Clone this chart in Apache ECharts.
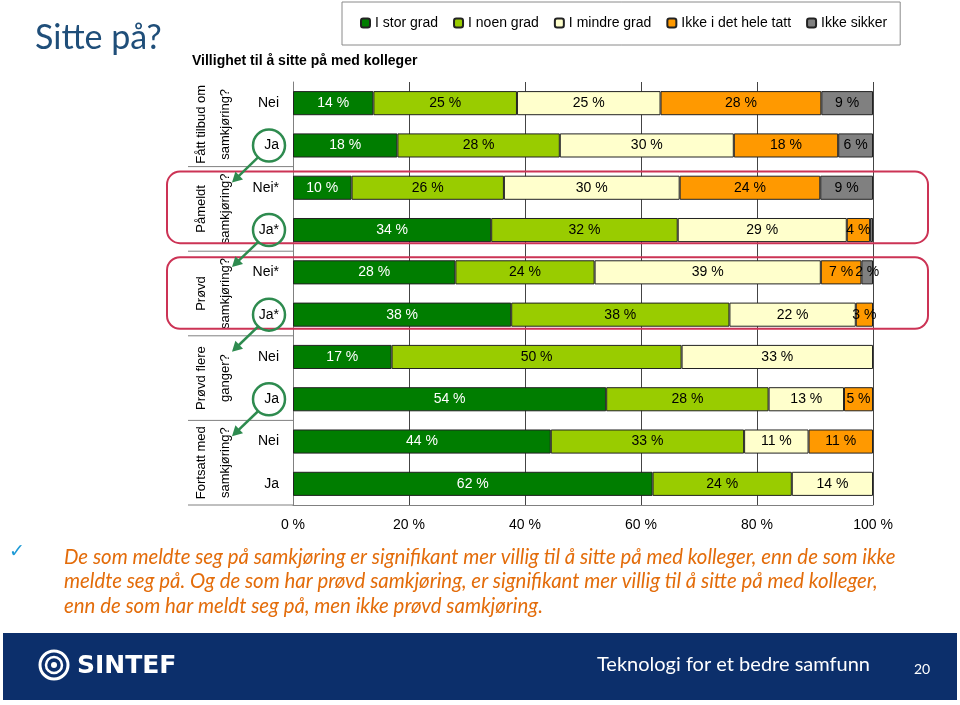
<!DOCTYPE html>
<html>
<head>
<meta charset="utf-8">
<script src="https://cdn.jsdelivr.net/npm/echarts@6/dist/echarts.min.js"></script>
<style>
html,body{margin:0;padding:0;background:#fff;}
#chart{width:960px;height:705px;}
</style>
</head>
<body>
<div id="chart"></div>
<script>
// ---- data ----
const rowLabels = ['Nei', 'Ja', 'Nei*', 'Ja*', 'Nei*', 'Ja*', 'Nei', 'Ja', 'Nei', 'Ja'];
const groupLine1 = ['Fått tilbud om', 'Påmeldt', 'Prøvd', 'Prøvd flere', 'Fortsatt med'];
const groupLine2 = ['samkjøring?', 'samkjøring?', 'samkjøring?', 'ganger?', 'samkjøring?'];
const seriesNames = ['I stor grad', 'I noen grad', 'I mindre grad', 'Ikke i det hele tatt', 'Ikke sikker'];
const storGrad      = [14, 18, 10, 34, 28, 38, 17, 54, 44, 62];
const noenGrad      = [25, 28, 26, 32, 24, 38, 50, 28, 33, 24];
const mindreGrad    = [25, 30, 30, 29, 39, 22, 33, 13, 11, 14];
const ikkeHeltTatt  = [28, 18, 24, 4, 7, 3, 0, 5, 11, 0];
const ikkeSikker    = [9, 6, 9, 0.5, 2, 0, 0, 0, 0, 0];
const xTickLabels   = ['0 %', '20 %', '40 %', '60 %', '80 %', '100 %'];
const circledRows   = [1, 3, 5, 7];
const textLines = [
  'De som meldte seg på samkjøring er signifikant mer villig til å sitte på med kolleger, enn de som ikke',
  'meldte seg på. Og de som har prøvd samkjøring, er signifikant mer villig til å sitte på med kolleger,',
  'enn de som har meldt seg på, men ikke prøvd samkjøring.'
];

const colors = ['#007D00', '#99CC00', '#FFFFCC', '#FF9900', '#808080'];
const rawSeries = [storGrad, noenGrad, mindreGrad, ikkeHeltTatt, ikkeSikker];
const rowSum = rowLabels.map((_, r) => rawSeries.reduce((s, arr) => s + arr[r], 0));

const chart = echarts.init(document.getElementById('chart'), null, {renderer: 'canvas'});
const AR = '"Liberation Sans", Arial, sans-serif';

const series = seriesNames.map((name, i) => ({
  type: 'bar',
  name: name,
  stack: 'total',
  barCategoryGap: '43%',
  data: rawSeries[i].map((v, r) => v > 0 ? v / rowSum[r] * 100 : null),
  itemStyle: {color: colors[i], borderColor: '#222', borderWidth: 1},
  label: {
    show: true,
    position: 'inside',
    color: i === 0 ? '#fff' : '#000',
    fontSize: 14,
    fontFamily: AR,
    formatter: p => {
      const raw = rawSeries[i][p.dataIndex];
      return raw >= 2 ? raw + ' %' : '';
    }
  },
  emphasis: {disabled: true}
}));

const option = {
  animation: false,
  backgroundColor: '#fff',
  legend: {
    left: 342, top: 2,
    padding: [14, 13, 15, 18],
    itemGap: 15,
    itemWidth: 9, itemHeight: 9,
    backgroundColor: '#fff',
    borderColor: '#8a8a8a', borderWidth: 1,
    textStyle: {fontSize: 14, fontFamily: AR, color: '#000'},
    data: seriesNames,
    selectedMode: false
  },
  grid: {left: 293, right: 87, top: 82, height: 423, containLabel: false},
  xAxis: {
    type: 'value', min: 0, max: 100, interval: 20,
    axisLine: {show: true, lineStyle: {color: '#808080'}},
    axisTick: {show: false},
    splitLine: {show: true, lineStyle: {color: '#444', width: 1}},
    axisLabel: {
      fontSize: 14, fontFamily: AR, color: '#000', margin: 13,
      formatter: v => xTickLabels[Math.round(v / 20)]
    }
  },
  yAxis: {
    type: 'category', inverse: true, data: rowLabels,
    axisLine: {show: true, lineStyle: {color: '#808080'}},
    axisTick: {show: false},
    axisLabel: {fontSize: 14, fontFamily: AR, color: '#000', margin: 14}
  },
  series: series
};
chart.setOption(option);

// ---- decorations positioned through the chart's own scales ----
const yc = i => chart.convertToPixel({yAxisIndex: 0}, i);
const band = yc(1) - yc(0);
const bnd = i => yc(i) - band / 2;
const gridLeft = chart.convertToPixel({xAxisIndex: 0}, 0);

const g = [];
// slide title
g.push({type: 'text', x: 35, y: 38, style: {text: 'Sitte på?', fill: '#1F4E79', font: '34px Lato, "Open Sans", sans-serif', verticalAlign: 'middle'}});
g.push({type: 'text', x: 192, y: 61, style: {text: 'Villighet til å sitte på med kolleger', fill: '#000', font: 'bold 14px ' + AR, verticalAlign: 'middle'}});

// group separators
for (let k = 2; k <= rowLabels.length; k += 2) {
  g.push({type: 'line', shape: {x1: 188, y1: bnd(k), x2: gridLeft, y2: bnd(k)}, style: {stroke: '#808080', lineWidth: 1}});
}
// group labels
for (let gi = 0; gi < groupLine1.length; gi++) {
  const cy = (bnd(2 * gi) + bnd(2 * gi + 2)) / 2;
  g.push({type: 'text', x: 201, y: cy, rotation: Math.PI / 2, style: {text: groupLine1[gi], fill: '#000', font: '13px ' + AR, align: 'center', verticalAlign: 'middle'}});
  g.push({type: 'text', x: 225, y: cy, rotation: Math.PI / 2, style: {text: groupLine2[gi], fill: '#000', font: '13px ' + AR, align: 'center', verticalAlign: 'middle'}});
}
// red rounded boxes
[[2, 5, 8], [4, 6, 7]].forEach(([a, t, b]) => {
  const top = bnd(a) + t, bot = bnd(a + 2) - b;
  g.push({type: 'rect', shape: {x: 167, y: top, width: 928 - 167, height: bot - top, r: 13}, style: {fill: 'none', stroke: '#CC3355', lineWidth: 2}, z: 50});
});
// green circles + arrows
const GREEN = '#2E8B4F';
circledRows.forEach(r => {
  const cx = gridLeft - 24, cy = yc(r);
  g.push({type: 'circle', shape: {cx: cx, cy: cy, r: 16}, style: {fill: 'none', stroke: GREEN, lineWidth: 2.5}, z: 50});
  const sx = cx - 11, sy = cy + 12, ex = cx - 37, ey = cy + 37;
  const L = Math.hypot(ex - sx, ey - sy), dx = (ex - sx) / L, dy = (ey - sy) / L;
  const nx = -dy, ny = dx, hl = 10, hw = 5.5;
  g.push({type: 'line', shape: {x1: sx, y1: sy, x2: ex - dx * 6, y2: ey - dy * 6}, style: {stroke: GREEN, lineWidth: 2.5}, z: 50});
  g.push({type: 'polygon', shape: {points: [[ex, ey], [ex - dx * hl + nx * hw, ey - dy * hl + ny * hw], [ex - dx * hl - nx * hw, ey - dy * hl - ny * hw]]}, style: {fill: GREEN}, z: 50});
});

// bottom text
g.push({type: 'text', x: 9, y: 552, style: {text: '✓', fill: '#1E9AD6', font: '19px "DejaVu Sans", sans-serif', verticalAlign: 'middle'}});
textLines.forEach((t, i) => {
  g.push({type: 'text', x: 64, y: 557 + i * 24.5, style: {text: t, fill: '#E36C0A', font: 'italic 20.4px Lato, sans-serif', verticalAlign: 'middle'}});
});

// footer
g.push({type: 'rect', shape: {x: 3, y: 633, width: 954, height: 67}, style: {fill: '#0C2F6B'}});
g.push({type: 'circle', shape: {cx: 54, cy: 665, r: 14}, style: {fill: 'none', stroke: '#fff', lineWidth: 3}});
g.push({type: 'circle', shape: {cx: 54, cy: 665, r: 8}, style: {fill: 'none', stroke: '#fff', lineWidth: 2.5}});
g.push({type: 'circle', shape: {cx: 54, cy: 665, r: 3}, style: {fill: '#fff'}});
g.push({type: 'text', x: 77, y: 666, style: {text: 'SINTEF', fill: '#fff', font: 'bold 25px "DejaVu Sans", sans-serif', verticalAlign: 'middle'}});
g.push({type: 'text', x: 870, y: 665, style: {text: 'Teknologi for et bedre samfunn', fill: '#fff', font: '20px Lato, sans-serif', align: 'right', verticalAlign: 'middle'}});
g.push({type: 'text', x: 922, y: 669, style: {text: '20', fill: '#fff', font: '14px Lato, sans-serif', align: 'center', verticalAlign: 'middle'}});

chart.setOption({graphic: {elements: g}});
</script>
</body>
</html>
